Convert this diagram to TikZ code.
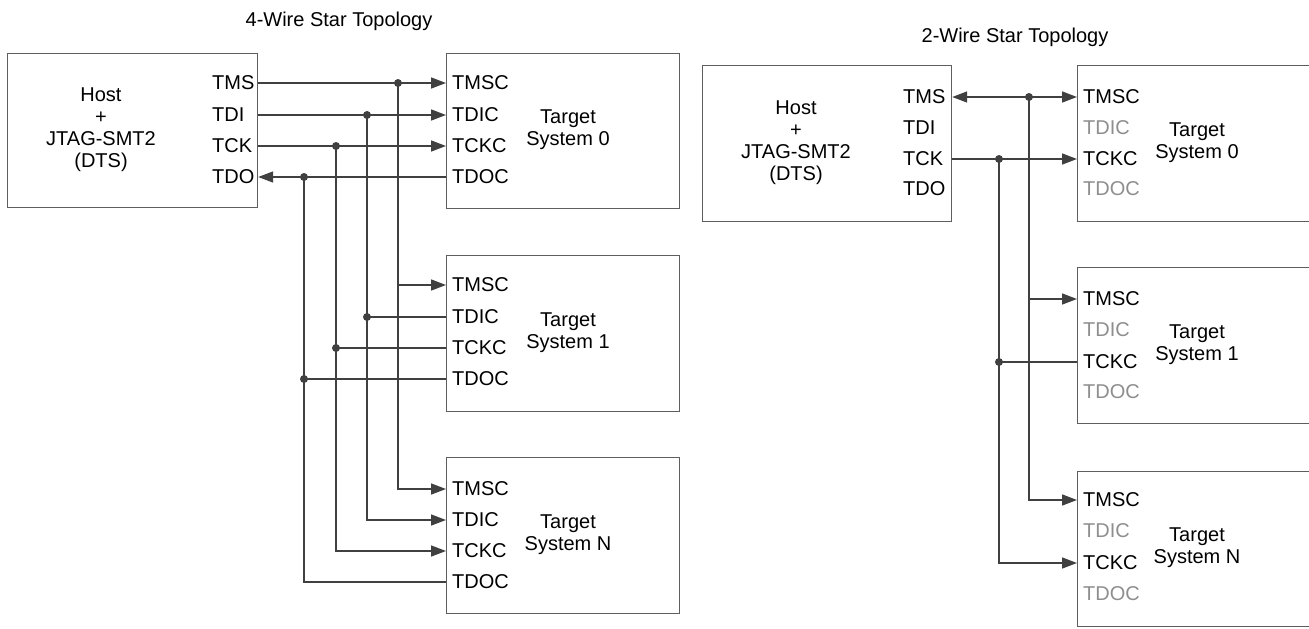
\documentclass[tikz,border=0pt]{standalone}
\usepackage{fontspec}
\setmainfont{Liberation Sans}
\usetikzlibrary{arrows.meta}
\definecolor{wirec}{HTML}{404040}
\definecolor{framec}{HTML}{5E5E5E}
\definecolor{dimc}{HTML}{8E8E8E}
\tikzset{
  box/.style={draw=framec, line width=1.2pt, anchor=north west, inner sep=0pt},
  pin/.style={anchor=west, inner sep=0pt, font=\fontsize{20}{22}\selectfont, text=black},
  dimpin/.style={pin, text=dimc},
  lbl/.style={align=center, inner sep=0pt, font=\fontsize{20}{22}\selectfont},
  wire/.style={draw=wirec, line width=1.5pt},
  arr/.style={wire, -{Triangle[length=15pt,width=11pt]}},
  darr/.style={wire, {Triangle[length=15pt,width=11pt]}-{Triangle[length=15pt,width=11pt]}},
  jdot/.style={circle, fill=wirec, inner sep=0pt, minimum size=8pt},
}
\begin{document}
\begin{tikzpicture}[x=1pt,y=-1pt]
\useasboundingbox (0,0) rectangle (1309,629);
\clip (0,0) rectangle (1309,629);

% ---------- titles ----------
\node[lbl, anchor=base] (title4) at (339,27) {4-Wire Star Topology};
\node[lbl, anchor=base] (title2) at (1015,42) {2-Wire Star Topology};

% ---------- 4-wire: host ----------
\node[box, minimum width=250pt, minimum height=154pt] (hA) at (7,53) {};
\node[lbl] (hAtxt) at (101,130) {Host\\+\\JTAG-SMT2\\(DTS)};
\node[pin] (hATMS) at (212,83) {TMS};
\node[pin] (hATDI) at (212,115) {TDI};
\node[pin] (hATCK) at (212,146) {TCK};
\node[pin] (hATDO) at (212,177) {TDO};

% ---------- 4-wire: targets ----------
\node[box, minimum width=233pt, minimum height=155pt] (t0) at (446,53) {};
\node[lbl] (t0txt) at (568,130) {Target\\System 0};
\node[pin] (t0TMSC) at (452,83) {TMSC};
\node[pin] (t0TDIC) at (452,115) {TDIC};
\node[pin] (t0TCKC) at (452,146) {TCKC};
\node[pin] (t0TDOC) at (452,177) {TDOC};

\node[box, minimum width=233pt, minimum height=156pt] (t1) at (446,255) {};
\node[lbl] (t1txt) at (568,333) {Target\\System 1};
\node[pin] (t1TMSC) at (452,285) {TMSC};
\node[pin] (t1TDIC) at (452,317) {TDIC};
\node[pin] (t1TCKC) at (452,348) {TCKC};
\node[pin] (t1TDOC) at (452,379) {TDOC};

\node[box, minimum width=233pt, minimum height=156pt] (tN) at (446,457) {};
\node[lbl] (tNtxt) at (568,535) {Target\\System N};
\node[pin] (tNTMSC) at (452,489) {TMSC};
\node[pin] (tNTDIC) at (452,520) {TDIC};
\node[pin] (tNTCKC) at (452,551) {TCKC};
\node[pin] (tNTDOC) at (452,582) {TDOC};

% ---------- 4-wire: wiring ----------
\coordinate (jTMS) at (398,83);
\coordinate (jTDI) at (367,115);
\coordinate (jTCK) at (336,146);
\coordinate (jTDO) at (304,177);

\draw[arr] (hA.east |- hATMS) -- (t0.west |- t0TMSC);
\draw[arr] (hA.east |- hATDI) -- (t0.west |- t0TDIC);
\draw[arr] (hA.east |- hATCK) -- (t0.west |- t0TCKC);
\draw[arr] (t0.west |- t0TDOC) -- (hA.east |- hATDO);

\draw[arr] (jTMS) |- (tN.west |- tNTMSC);
\draw[arr] (jTDI) |- (tN.west |- tNTDIC);
\draw[arr] (jTCK) |- (tN.west |- tNTCKC);
\draw[wire] (jTDO) |- (tN.west |- tNTDOC);

\draw[arr] (jTMS |- t1TMSC) -- (t1.west |- t1TMSC);
\draw[wire] (jTDI |- t1TDIC) -- (t1.west |- t1TDIC);
\draw[wire] (jTCK |- t1TCKC) -- (t1.west |- t1TCKC);
\draw[wire] (jTDO |- t1TDOC) -- (t1.west |- t1TDOC);

\node[jdot] (dA1) at (jTMS) {};
\node[jdot] (dA2) at (jTDI) {};
\node[jdot] (dA3) at (jTCK) {};
\node[jdot] (dA4) at (jTDO) {};
\node[jdot] (dA5) at (jTDI |- t1TDIC) {};
\node[jdot] (dA6) at (jTCK |- t1TCKC) {};
\node[jdot] (dA7) at (jTDO |- t1TDOC) {};

% ---------- 2-wire: host ----------
\node[box, minimum width=249pt, minimum height=156pt] (hB) at (702,65) {};
\node[lbl] (hBtxt) at (796,143) {Host\\+\\JTAG-SMT2\\(DTS)};
\node[pin] (hBTMS) at (903,97) {TMS};
\node[pin] (hBTDI) at (903,128) {TDI};
\node[pin] (hBTCK) at (903,159) {TCK};
\node[pin] (hBTDO) at (903,189) {TDO};

% ---------- 2-wire: targets ----------
\node[box, minimum width=250pt, minimum height=156pt] (r0) at (1077,65) {};
\node[lbl] (r0txt) at (1197,143) {Target\\System 0};
\node[pin] (r0TMSC) at (1083,97) {TMSC};
\node[dimpin] (r0TDIC) at (1083,128) {TDIC};
\node[pin] (r0TCKC) at (1083,159) {TCKC};
\node[dimpin] (r0TDOC) at (1083,189) {TDOC};

\node[box, minimum width=250pt, minimum height=156pt] (r1) at (1077,267) {};
\node[lbl] (r1txt) at (1197,345) {Target\\System 1};
\node[pin] (r1TMSC) at (1083,299) {TMSC};
\node[dimpin] (r1TDIC) at (1083,330) {TDIC};
\node[pin] (r1TCKC) at (1083,362) {TCKC};
\node[dimpin] (r1TDOC) at (1083,392) {TDOC};

\node[box, minimum width=250pt, minimum height=155pt] (rN) at (1077,471) {};
\node[lbl] (rNtxt) at (1197,548) {Target\\System N};
\node[pin] (rNTMSC) at (1083,500) {TMSC};
\node[dimpin] (rNTDIC) at (1083,531) {TDIC};
\node[pin] (rNTCKC) at (1083,563) {TCKC};
\node[dimpin] (rNTDOC) at (1083,594) {TDOC};

% ---------- 2-wire: wiring ----------
\coordinate (kTMS) at (1029,97);
\coordinate (kTCK) at (999,159);

\draw[darr] (hB.east |- hBTMS) -- (r0.west |- r0TMSC);
\draw[arr] (hB.east |- hBTCK) -- (r0.west |- r0TCKC);

\draw[arr] (kTMS) |- (rN.west |- rNTMSC);
\draw[arr] (kTCK) |- (rN.west |- rNTCKC);

\draw[arr] (kTMS |- r1TMSC) -- (r1.west |- r1TMSC);
\draw[wire] (kTCK |- r1TCKC) -- (r1.west |- r1TCKC);

\node[jdot] (dB1) at (kTMS) {};
\node[jdot] (dB2) at (kTCK) {};
\node[jdot] (dB3) at (kTCK |- r1TCKC) {};
\end{tikzpicture}
\end{document}
